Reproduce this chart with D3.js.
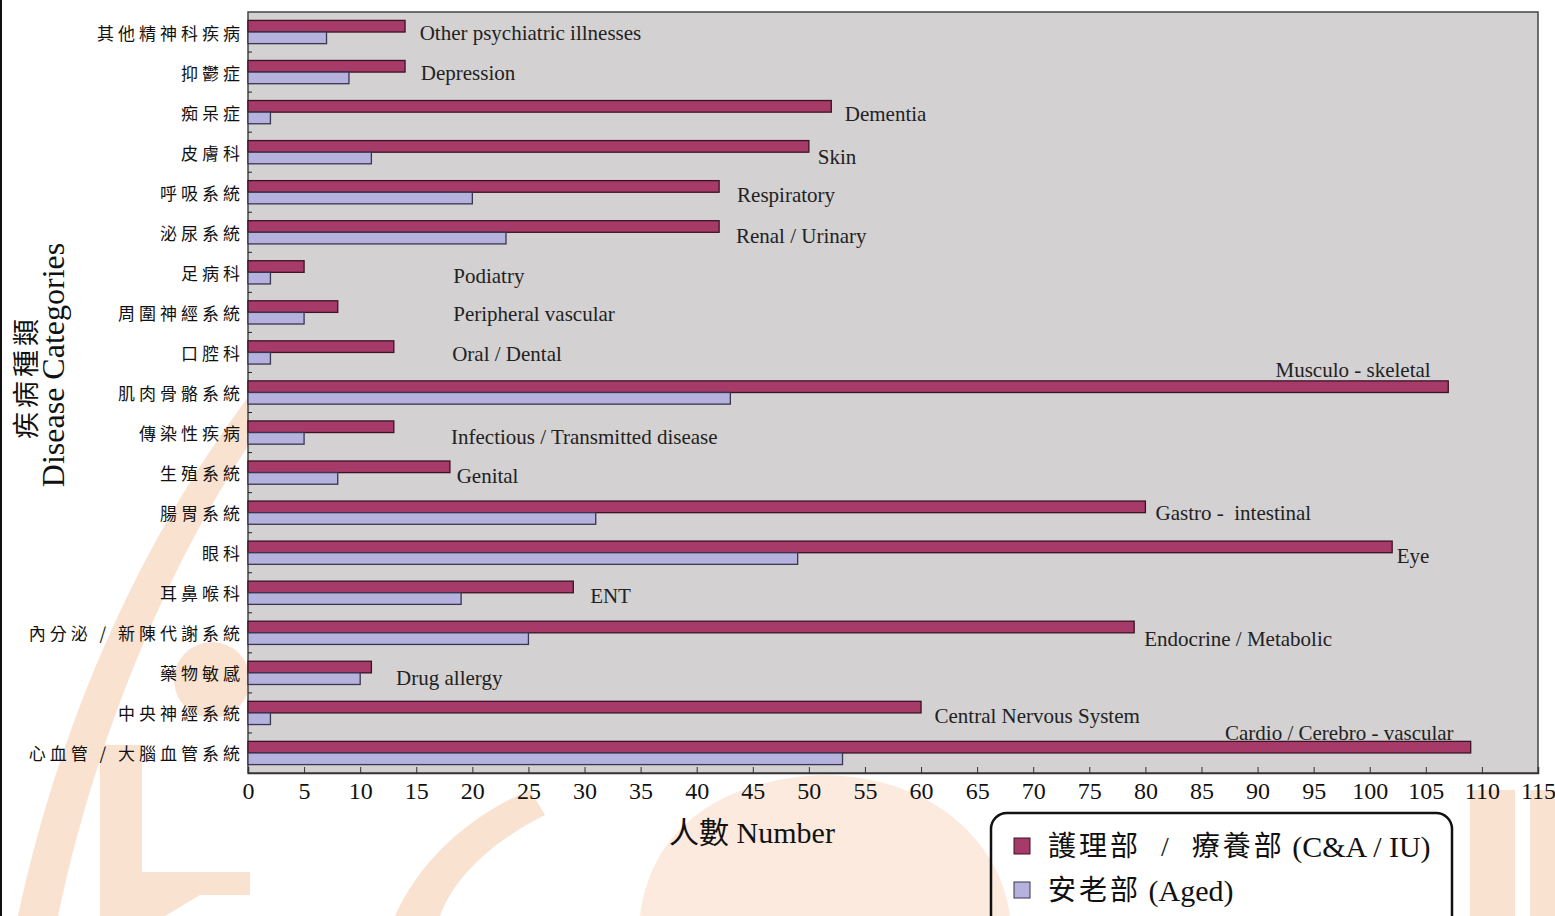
<!DOCTYPE html>
<html>
<head>
<meta charset="utf-8">
<script src="https://cdn.jsdelivr.net/npm/d3@7"></script>
<style>
  body { margin: 0; background: #fff; }
  svg { display: block; }
  .cat { font-family: "Noto Sans CJK TC", serif; font-size: 17px; letter-spacing: 4px; fill: #111; }
  .note { font-family: "Liberation Serif", serif; font-size: 21px; fill: #222; }
  .tick text { font-family: "Liberation Serif", serif; font-size: 24px; fill: #111; }
  .title { font-family: "Liberation Serif", "Noto Sans CJK TC", serif; fill: #111; }
</style>
</head>
<body>
<svg></svg>
<script>
// categories, top to bottom
var categories = ['其他精神科疾病', '抑鬱症', '痴呆症', '皮膚科', '呼吸系統', '泌尿系統', '足病科',
  '周圍神經系統', '口腔科', '肌肉骨骼系統', '傳染性疾病', '生殖系統', '腸胃系統', '眼科',
  '耳鼻喉科', '內分泌 / 新陳代謝系統', '藥物敏感', '中央神經系統', '心血管 / 大腦血管系統'];
var englishNames = ['Other psychiatric illnesses', 'Depression', 'Dementia', 'Skin', 'Respiratory',
  'Renal / Urinary', 'Podiatry', 'Peripheral vascular', 'Oral / Dental', 'Musculo - skeletal',
  'Infectious / Transmitted disease', 'Genital', 'Gastro -  intestinal', 'Eye', 'ENT',
  'Endocrine / Metabolic', 'Drug allergy', 'Central Nervous System', 'Cardio / Cerebro - vascular'];
var seriesChinese = ['護理部  /  療養部', '安老部'];
var seriesEnglish = ['(C&A / IU)', '(Aged)'];
var careValues = [14, 14, 52, 50, 42, 42, 5, 8, 13, 107, 13, 18, 80, 102, 29, 79, 11, 60, 109];
var agedValues = [7, 9, 2, 11, 20, 23, 2, 5, 2, 43, 5, 8, 31, 49, 19, 25, 10, 2, 53];
var xTicks = d3.range(0, 116, 5);

// where the english notes sit (x in axis units, dy in px from band centre)
var noteAt = [15.3, 15.4, 53.2, 50.8, 43.6, 43.5, 18.3, 18.3, 18.2, 91.6, 18.1, 18.6, 80.9, 102.4, 30.5, 79.9, 13.2, 61.2, 87.1];
var noteDy = [1, 1, 2, 5, 3, 4, 4, 2, 2, -23, 4, 3, 0, 3, 3, 6, 5, 3, -20];

var colors = ['#a63a68', '#b5b2de'];
var strokes = ['#3b1424', '#3a3550'];

var canvasWidth = 1555, canvasHeight = 916;
var plot = { left: 248, top: 12, right: 1538, bottom: 773 };

var svg = d3.select('svg')
  .attr('width', canvasWidth)
  .attr('height', canvasHeight);

// faint watermark behind everything
var wm = svg.append('g').attr('fill', '#f9e2d0').attr('stroke', 'none');
wm.append('path')
  .attr('d', 'M18,916 C60,720 140,540 252,392 L252,440 C165,570 95,740 58,916 Z');
wm.append('circle').attr('cx', 212).attr('cy', 680).attr('r', 38);
wm.append('rect').attr('x', 100).attr('y', 745).attr('width', 42).attr('height', 171);
wm.append('path').attr('d', 'M105,872 L250,872 L250,895 L200,895 L165,916 L105,916 Z');
wm.append('path')
  .attr('d', 'M640,916 C650,830 720,780 820,775 C930,775 1000,840 1010,916 Z')
  .attr('fill', '#fbeadd');
wm.append('rect').attr('x', 1470).attr('y', 790).attr('width', 45).attr('height', 126);
wm.append('rect').attr('x', 1530).attr('y', 790).attr('width', 25).attr('height', 126);
wm.append('path').attr('d', 'M395,916 C420,860 470,815 530,790 L545,815 C495,840 455,875 440,916 Z');

svg.append('line')
  .attr('x1', 1).attr('x2', 1).attr('y1', 0).attr('y2', canvasHeight)
  .attr('stroke', '#111').attr('stroke-width', 2);

var xScale = d3.scaleLinear().domain([0, 115]).range([plot.left, plot.right]);
var yScale = d3.scaleBand().domain(categories).range([plot.top, plot.bottom])
  .paddingInner(0.42).paddingOuter(0.21);
var ySub = d3.scaleBand().domain([0, 1]).range([0, yScale.bandwidth()]);

// plot background
svg.append('rect')
  .attr('x', plot.left).attr('y', plot.top)
  .attr('width', plot.right - plot.left).attr('height', plot.bottom - plot.top)
  .attr('fill', '#d3d1d2')
  .attr('stroke', '#444').attr('stroke-width', 1.5);

// y ticks at the band boundaries, drawn inward
var step = yScale.step();
svg.append('g').selectAll('line')
  .data(d3.range(1, categories.length))
  .enter().append('line')
  .attr('x1', plot.left).attr('x2', plot.left + 4)
  .attr('y1', function(i) { return plot.top + i * step; })
  .attr('y2', function(i) { return plot.top + i * step; })
  .attr('stroke', '#222');

// bars
var rows = categories.map(function(c, i) {
  return { cat: c, vals: [careValues[i], agedValues[i]] };
});
var groups = svg.append('g').selectAll('g')
  .data(rows)
  .enter().append('g')
  .attr('transform', function(d) { return 'translate(0,' + yScale(d.cat) + ')'; });
groups.selectAll('rect')
  .data(function(d) { return d.vals; })
  .enter().append('rect')
  .attr('x', xScale(0))
  .attr('y', function(v, j) { return ySub(j); })
  .attr('width', function(v) { return xScale(v) - xScale(0); })
  .attr('height', ySub.bandwidth())
  .attr('fill', function(v, j) { return colors[j]; })
  .attr('stroke', function(v, j) { return strokes[j]; })
  .attr('stroke-width', 1.3);

// english notes
svg.append('g').selectAll('text')
  .data(englishNames)
  .enter().append('text')
  .attr('class', 'note')
  .attr('x', function(d, i) { return xScale(noteAt[i]); })
  .attr('y', function(d, i) { return yScale(categories[i]) + yScale.bandwidth() / 2 + noteDy[i]; })
  .attr('dominant-baseline', 'central')
  .style('white-space', 'pre')
  .text(function(d) { return d; });

// category labels
svg.append('g').selectAll('text')
  .data(categories)
  .enter().append('text')
  .attr('class', 'cat')
  .attr('x', plot.left - 4)
  .attr('y', function(d) { return yScale(d) + yScale.bandwidth() / 2; })
  .attr('dominant-baseline', 'central')
  .attr('text-anchor', 'end')
  .text(function(d) { return d; });

// x axis: ticks point up into the plot
var xAxis = svg.append('g')
  .attr('transform', 'translate(0,' + plot.bottom + ')')
  .call(d3.axisBottom(xScale).tickValues(xTicks).tickSize(-6).tickPadding(12));
xAxis.select('.domain').attr('stroke', '#333').attr('stroke-width', 1.5);
xAxis.selectAll('.tick line').attr('stroke', '#333');
xAxis.selectAll('.tick text').attr('dy', '0.6em');

// axis titles
svg.append('text')
  .attr('class', 'title')
  .attr('x', 752).attr('y', 843)
  .attr('text-anchor', 'middle')
  .style('font-size', '30px')
  .text('人數 Number');

var yTitle = svg.append('g').attr('transform', 'translate(0,365) rotate(-90)');
yTitle.append('text')
  .attr('class', 'title')
  .attr('x', -12).attr('y', 36)
  .attr('text-anchor', 'middle')
  .style('font-size', '27px')
  .style('letter-spacing', '4px')
  .text('疾病種類');
yTitle.append('text')
  .attr('class', 'title')
  .attr('x', 0).attr('y', 64)
  .attr('text-anchor', 'middle')
  .style('font-size', '32px')
  .text('Disease Categories');

// legend
var legend = svg.append('g');
legend.append('rect')
  .attr('x', 991).attr('y', 813)
  .attr('width', 461).attr('height', 130)
  .attr('rx', 16)
  .attr('fill', 'none')
  .attr('stroke', '#111').attr('stroke-width', 2.5);
var items = legend.selectAll('.item')
  .data(seriesChinese)
  .enter().append('g')
  .attr('class', 'item')
  .attr('transform', function(d, i) { return 'translate(1014,' + (846 + i * 44) + ')'; });
items.append('rect')
  .attr('x', 0).attr('y', -8)
  .attr('width', 16).attr('height', 16)
  .attr('fill', function(d, i) { return colors[i]; })
  .attr('stroke', function(d, i) { return strokes[i]; });
var legendText = items.append('text')
  .attr('class', 'title')
  .attr('x', 34).attr('y', 0)
  .attr('dominant-baseline', 'central')
  .style('white-space', 'pre');
legendText.append('tspan')
  .style('font-size', '28px')
  .style('letter-spacing', '3px')
  .text(function(d) { return d; });
legendText.append('tspan')
  .style('font-size', '30px')
  .text(function(d, i) { return ' ' + seriesEnglish[i]; });
</script>
</body>
</html>
